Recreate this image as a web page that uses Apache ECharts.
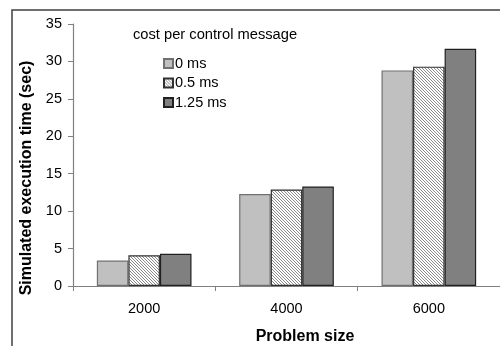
<!DOCTYPE html>
<html><head><meta charset="utf-8">
<script src="https://cdn.jsdelivr.net/npm/echarts@6/dist/echarts.min.js"></script>
<style>html,body{margin:0;padding:0;background:#fff}#c{width:500px;height:346px}</style>
</head><body><div id="c"></div>
<script>
const categories = ['2000', '4000', '6000'];
const seriesNames = ['0 ms', '0.5 ms', '1.25 ms'];
const values0 = [3.4, 12.3, 28.8];
const values05 = [4.1, 12.9, 29.3];
const values125 = [4.3, 13.3, 31.7];
const yTicks = [0, 5, 10, 15, 20, 25, 30, 35];

function hatch() {
  const c = document.createElement('canvas');
  c.width = 3; c.height = 3;
  const g = c.getContext('2d');
  g.fillStyle = '#ffffff'; g.fillRect(0, 0, 3, 3);
  g.fillStyle = '#8a8a8a';
  g.fillRect(0, 0, 1, 1); g.fillRect(1, 1, 1, 1); g.fillRect(2, 2, 1, 1);
  return c;
}
const pat = { image: hatch(), repeat: 'repeat' };
const font = 'Liberation Sans, Arial, sans-serif';
const chart = echarts.init(document.getElementById('c'));
const styles = [
  { color: '#c0c0c0', borderColor: '#707070', borderWidth: 1.2 },
  { color: pat, borderColor: '#303030', borderWidth: 1.2 },
  { color: '#808080', borderColor: '#202020', borderWidth: 1.2 }
];
const data = [values0, values05, values125];
chart.setOption({
  animation: false,
  grid: { left: 73, top: 24, width: 438, height: 262, containLabel: false },
  legend: {
    orient: 'vertical', left: 158, top: 51, itemWidth: 9, itemHeight: 9, itemGap: 4.5,
    icon: 'rect',
    textStyle: { fontFamily: font, fontSize: 14.5, lineHeight: 14, color: '#000', padding: [0, 0, 0, -3] },
    data: seriesNames
  },
  xAxis: {
    type: 'category', data: categories,
    axisLine: { lineStyle: { color: '#808080', width: 1.2 } },
    axisTick: { show: true, length: 5, lineStyle: { color: '#808080' } },
    axisLabel: { fontFamily: font, fontSize: 14.5, color: '#000', margin: 15 }
  },
  yAxis: {
    type: 'value', min: 0, max: 35, interval: 5,
    axisLine: { show: true, lineStyle: { color: '#808080', width: 1.2 } },
    axisTick: { show: true, length: 5, lineStyle: { color: '#808080' } },
    splitLine: { show: false },
    axisLabel: { fontFamily: font, fontSize: 14.5, color: '#000', margin: 11,
      formatter: v => yTicks.includes(v) ? String(v) : '' }
  },
  graphic: [
    { type: 'rect', shape: { x: 12, y: 10, width: 600, height: 400 }, style: { fill: 'none', stroke: '#404040', lineWidth: 1.5 }, z: 100 },
    { type: 'text', x: 133, y: 35, style: { text: 'cost per control message', fontFamily: font, fontSize: 14.7, fill: '#000', textVerticalAlign: 'middle' } },
    { type: 'text', x: 305, y: 337, style: { text: 'Problem size', fontFamily: font, fontSize: 16, fontWeight: 'bold', fill: '#000', textAlign: 'center', textVerticalAlign: 'middle' } },
    { type: 'text', x: 27, y: 178, rotation: Math.PI / 2, style: { text: 'Simulated execution time (sec)', fontFamily: font, fontSize: 16, fontWeight: 'bold', fill: '#000', textAlign: 'center', textVerticalAlign: 'middle' } }
  ],
  series: seriesNames.map((n, i) => ({
    name: n, type: 'bar', data: data[i], barGap: '0%', barCategoryGap: '33.5%',
    itemStyle: styles[i]
  }))
});
</script></body></html>
